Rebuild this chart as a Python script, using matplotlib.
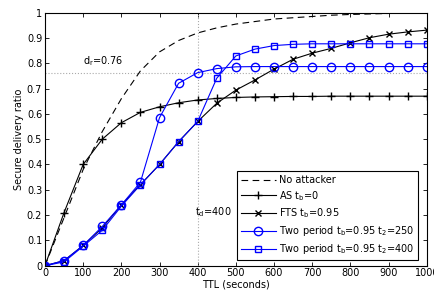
import matplotlib.pyplot as plt

plt.rcParams["font.family"] = "DejaVu Sans"
plt.rcParams["font.size"] = 7

ttl = [0, 50, 100, 150, 200, 250, 300, 350, 400, 450, 500,
       550, 600, 650, 700, 750, 800, 850, 900, 950, 1000]

no_attacker = [0, 0.19, 0.38, 0.53, 0.66, 0.77, 0.845, 0.89, 0.92, 0.94, 0.955,
               0.965, 0.975, 0.98, 0.985, 0.99, 0.993, 0.995, 0.997, 0.998, 0.999]
as_tb0 = [0, 0.21, 0.40, 0.50, 0.565, 0.606, 0.628, 0.644, 0.655, 0.661, 0.665,
          0.667, 0.668, 0.669, 0.669, 0.67, 0.67, 0.67, 0.67, 0.67, 0.67]
fts = [0, 0.02, 0.08, 0.15, 0.24, 0.32, 0.40, 0.49, 0.57, 0.642, 0.694,
       0.734, 0.777, 0.816, 0.84, 0.859, 0.881, 0.901, 0.915, 0.924, 0.931]
two_250 = [0, 0.02, 0.08, 0.155, 0.24, 0.33, 0.585, 0.721, 0.763, 0.779, 0.786,
           0.787, 0.787, 0.787, 0.787, 0.787, 0.787, 0.787, 0.787, 0.787, 0.787]
two_400 = [0, 0.015, 0.077, 0.14, 0.235, 0.32, 0.40, 0.49, 0.57, 0.741, 0.829,
           0.856, 0.87, 0.875, 0.877, 0.877, 0.877, 0.877, 0.877, 0.877, 0.877]

fig = plt.figure(figsize=(4.35, 2.95), dpi=100)
ax = fig.add_axes([0.1034, 0.0993, 0.8776, 0.8577])

ax.axhline(0.76, color="#aaaaaa", linestyle=":", linewidth=0.8)
ax.axvline(400, color="#aaaaaa", linestyle=":", linewidth=0.8)

ax.plot(ttl, no_attacker, "k--", dashes=(6, 4), linewidth=0.8, label="No attacker")
ax.plot(ttl, as_tb0, "k-", marker="+", markersize=6, linewidth=0.8,
        label="AS t$_\\mathregular{b}$=0")
ax.plot(ttl, fts, "k-", marker="x", markersize=4, linewidth=0.8,
        label="FTS t$_\\mathregular{b}$=0.95")
ax.plot(ttl, two_250, "-", color="blue", marker="o", markersize=6,
        markerfacecolor="none", linewidth=0.8,
        label="Two period t$_\\mathregular{b}$=0.95 t$_\\mathregular{2}$=250")
ax.plot(ttl, two_400, "-", color="blue", marker="s", markersize=5,
        markerfacecolor="none", linewidth=0.8,
        label="Two period t$_\\mathregular{b}$=0.95 t$_\\mathregular{2}$=400")

ax.text(100, 0.795, "d$_\\mathregular{r}$=0.76", fontsize=7)
ax.text(392, 0.2, "t$_\\mathregular{d}$=400", fontsize=7)

ax.set_xlim(0, 1000)
ax.set_ylim(0, 1)
ax.set_xticks(range(0, 1001, 100))
ax.set_yticks([i / 10 for i in range(11)])
ax.set_yticklabels(["0", "0.1", "0.2", "0.3", "0.4", "0.5", "0.6", "0.7", "0.8", "0.9", "1"])
ax.tick_params(direction="in", top=True, right=True, length=3, width=0.6, pad=2)
for s in ax.spines.values():
    s.set_linewidth(0.8)

ax.set_xlabel("TTL (seconds)", labelpad=1)
ax.set_ylabel("Secure delivery ratio", labelpad=2)

leg = ax.legend(loc="lower right", bbox_to_anchor=(0.977, 0.0225), fontsize=7,
                fancybox=False, framealpha=1, edgecolor="black", borderpad=0.4,
                labelspacing=0.4, handlelength=3.6, handletextpad=0.3,
                borderaxespad=0)
leg.get_frame().set_linewidth(0.8)

fig.savefig("out.png", dpi=100)
